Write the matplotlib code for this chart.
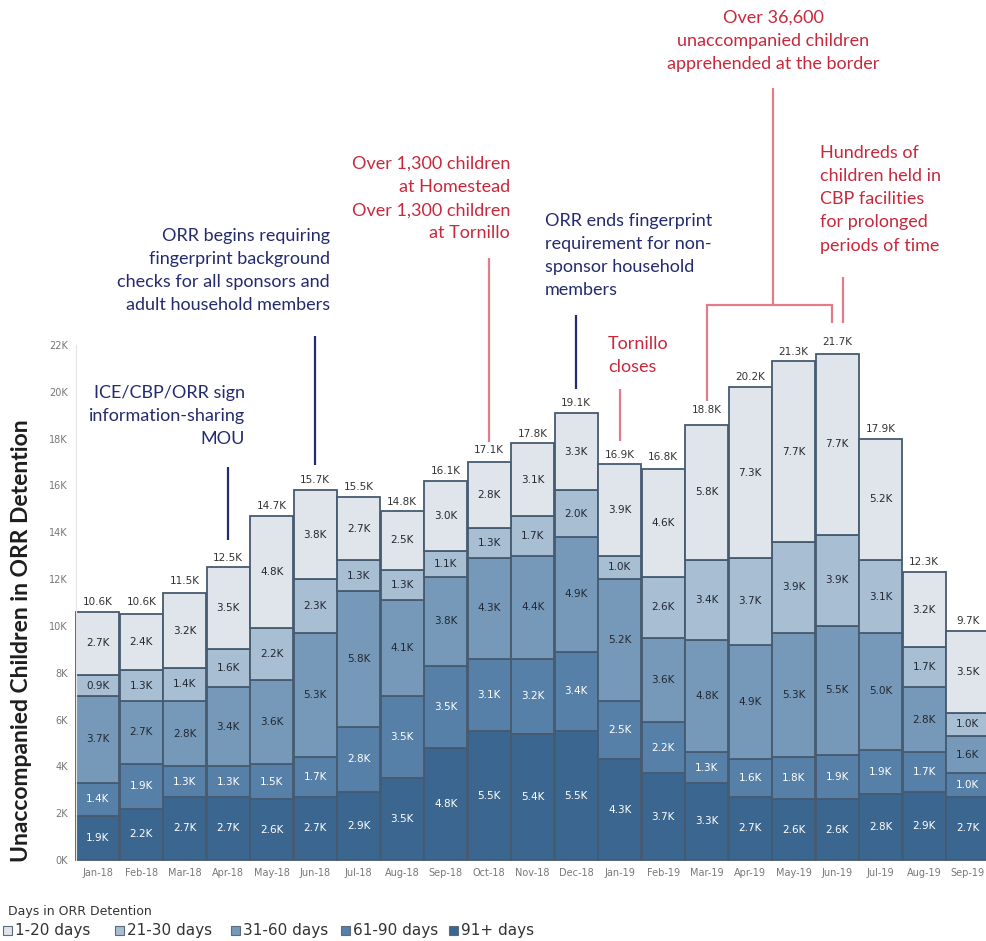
import matplotlib

matplotlib.use("Agg")
import matplotlib.pyplot as plt
from matplotlib.patches import Rectangle
import numpy as np

plt.rcParams["font.family"] = ["DejaVu Sans"]
NOTE_FONT = ["Lato", "DejaVu Sans"]

# --- Data (thousands of children) ---------------------------------------
months = ["Jan-18", "Feb-18", "Mar-18", "Apr-18", "May-18", "Jun-18", "Jul-18",
          "Aug-18", "Sep-18", "Oct-18", "Nov-18", "Dec-18", "Jan-19", "Feb-19",
          "Mar-19", "Apr-19", "May-19", "Jun-19", "Jul-19", "Aug-19", "Sep-19"]
days_91_plus = [1.9, 2.2, 2.7, 2.7, 2.6, 2.7, 2.9, 3.5, 4.8, 5.5, 5.4,
                5.5, 4.3, 3.7, 3.3, 2.7, 2.6, 2.6, 2.8, 2.9, 2.7]
days_61_90 = [1.4, 1.9, 1.3, 1.3, 1.5, 1.7, 2.8, 3.5, 3.5, 3.1, 3.2,
              3.4, 2.5, 2.2, 1.3, 1.6, 1.8, 1.9, 1.9, 1.7, 1.0]
days_31_60 = [3.7, 2.7, 2.8, 3.4, 3.6, 5.3, 5.8, 4.1, 3.8, 4.3, 4.4,
              4.9, 5.2, 3.6, 4.8, 4.9, 5.3, 5.5, 5.0, 2.8, 1.6]
days_21_30 = [0.9, 1.3, 1.4, 1.6, 2.2, 2.3, 1.3, 1.3, 1.1, 1.3, 1.7,
              2.0, 1.0, 2.6, 3.4, 3.7, 3.9, 3.9, 3.1, 1.7, 1.0]
days_1_20 = [2.7, 2.4, 3.2, 3.5, 4.8, 3.8, 2.7, 2.5, 3.0, 2.8, 3.1,
             3.3, 3.9, 4.6, 5.8, 7.3, 7.7, 7.7, 5.2, 3.2, 3.5]
totals = [10.6, 10.6, 11.5, 12.5, 14.7, 15.7, 15.5, 14.8, 16.1, 17.1, 17.8,
          19.1, 16.9, 16.8, 18.8, 20.2, 21.3, 21.7, 17.9, 12.3, 9.7]
y_ticks = [0, 2, 4, 6, 8, 10, 12, 14, 16, 18, 20, 22]

series = [
    ("91+ days", days_91_plus, "#3a6690", "white"),
    ("61-90 days", days_61_90, "#5680a8", "white"),
    ("31-60 days", days_31_60, "#7699b9", "#222833"),
    ("21-30 days", days_21_30, "#a8bed3", "#222833"),
    ("1-20 days", days_1_20, "#e0e5ec", "#222833"),
]

NAVY = "#242a6e"
RED = "#c8283c"
PINK = "#e27c89"
EDGE = "#465a70"

W, H = 987, 941


def fx(p):
    return p / W


def fy(p):
    return 1 - p / H


fig = plt.figure(figsize=(W / 100, H / 100), dpi=100)
ax = fig.add_axes([fx(76), fy(860), fx(911), 515 / H])

x = np.arange(len(months))
bottom = np.zeros(len(months))
for name, vals, color, tcolor in series:
    vals = np.asarray(vals)
    ax.bar(x, vals, width=0.98, bottom=bottom, color=color, edgecolor=EDGE,
           linewidth=1.3, clip_on=False)
    for xi, b, v in zip(x, bottom, vals):
        ax.text(xi, b + v / 2, f"{v:.1f}K", ha="center", va="center",
                fontsize=7.5, color=tcolor, clip_on=False)
    bottom += vals

for xi, t, top in zip(x, totals, bottom):
    ax.text(xi, max(t, top) + 0.2, f"{t:.1f}K", ha="center", va="bottom",
            fontsize=7.5, color="#333333", clip_on=False)

ax.set_xlim(-0.5, -0.5 + 911 / 43.5)
ax.set_ylim(0, 22)
ax.set_yticks(y_ticks, [f"{v}K" for v in y_ticks])
ax.set_xticks(x, months)
ax.tick_params(axis="both", length=0, labelsize=7, labelcolor="#777777")
ax.tick_params(axis="y", pad=6)
ax.tick_params(axis="x", pad=6)
for side in ["top", "right", "bottom"]:
    ax.spines[side].set_visible(False)
ax.spines["left"].set_color("#e4e4e4")

fig.text(fx(22), fy(641), "Unaccompanied Children in ORR Detention",
         rotation=90, ha="center", va="center", fontsize=16.5,
         fontweight="bold", color="#1e1e1e", family=NOTE_FONT)


# --- Annotations ---------------------------------------------------------
def vline(xv, y0, y1, color):
    ax.plot([xv, xv], [y0, y1], color=color, lw=1.6, clip_on=False,
            solid_capstyle="butt")


def note(px, cap_top, text, ha, color):
    fig.text(fx(px), fy(cap_top - 2), text, ha=ha, va="top", fontsize=13,
             color=color, linespacing=1.55, family=NOTE_FONT)


note(245, 387, "ICE/CBP/ORR sign\ninformation-sharing\nMOU", "right", NAVY)
vline(3, totals[3] + 1.17, totals[3] + 4.3, NAVY)

note(330, 230, "ORR begins requiring\nfingerprint background\n"
     "checks for all sponsors and\nadult household members", "right", NAVY)
vline(5, totals[5] + 1.17, totals[5] + 6.7, NAVY)

note(510, 158, "Over 1,300 children\nat Homestead\nOver 1,300 children\n"
     "at Tornillo", "right", RED)
vline(9, totals[9] + 0.76, totals[9] + 8.6, PINK)

note(545, 215, "ORR ends fingerprint\nrequirement for non-\n"
     "sponsor household\nmembers", "left", NAVY)
vline(11, totals[11] + 1.0, totals[11] + 4.2, NAVY)

note(608, 338, "Tornillo\ncloses", "left", RED)
vline(12, totals[12] + 1.0, totals[12] + 3.2, PINK)

note(773, 12, "Over 36,600\nunaccompanied children\napprehended at the border",
     "center", RED)
bracket_y = totals[14] + 4.9
vline(14, totals[14] + 0.8, bracket_y, PINK)
vline(16.88, totals[17] + 1.24, bracket_y, PINK)
ax.plot([14, 16.88], [bracket_y, bracket_y], color=PINK, lw=1.6,
        clip_on=False, solid_capstyle="projecting")
vline(15.52, bracket_y, bracket_y + 9.27, PINK)

note(820, 147, "Hundreds of\nchildren held in\nCBP facilities\nfor prolonged\n"
     "periods of time", "left", RED)
vline(17.13, totals[17] + 1.24, totals[17] + 3.2, PINK)

# --- Legend --------------------------------------------------------------
fig.text(fx(8), fy(912), "Days in ORR Detention", ha="left", va="center",
         fontsize=9, color="#333333")
legend_x = [3, 115, 231, 341, 449]
for lx, (name, _, color, _) in zip(legend_x, series[::-1]):
    fig.patches.append(Rectangle((fx(lx), fy(935)), 9 / W, 9 / H,
                                 transform=fig.transFigure, facecolor=color,
                                 edgecolor="#5d6b7b", linewidth=0.8))
    fig.text(fx(lx + 12), fy(930), name, ha="left", va="center",
             fontsize=11, color="#333333")

fig.savefig("out.png", dpi=100)
